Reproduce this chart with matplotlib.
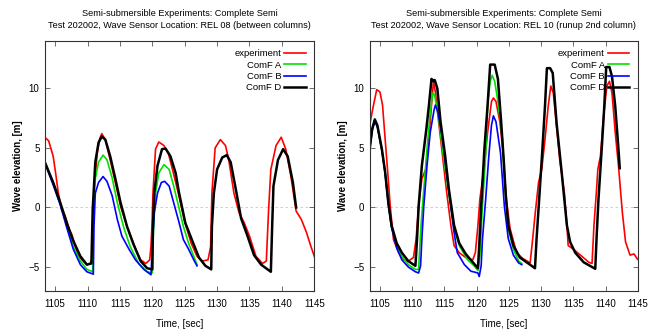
import matplotlib
matplotlib.use("Agg")
import matplotlib.pyplot as plt

plt.rcParams['font.family'] = ['Liberation Sans Narrow', 'Liberation Sans', 'DejaVu Sans']
plt.rcParams['font.size'] = 7

# ---- REL 08 (between columns) ----
t_exp_08 = [1103.45, 1104.0, 1104.7, 1105.1, 1105.5, 1106.0, 1106.55, 1107.2, 1107.6, 1108.1, 1108.6,
            1109.1, 1109.9, 1110.4, 1110.65, 1110.9, 1111.0, 1111.5, 1111.9, 1112.2, 1112.75, 1113.5,
            1114.3, 1115.1, 1116.1, 1116.6, 1117.1, 1117.6, 1118.2, 1119.0, 1119.6, 1119.8, 1119.95,
            1120.1, 1120.5, 1121.0, 1121.8, 1122.5, 1123.3, 1124.1, 1125.0, 1126.0, 1126.9, 1127.7,
            1128.6, 1129.0, 1129.2, 1129.7, 1130.5, 1131.3, 1131.8, 1132.6, 1133.4, 1134.2, 1135.0,
            1136.0, 1137.0, 1137.6, 1137.95, 1138.3, 1139.1, 1139.9, 1140.6, 1141.4, 1142.2, 1143.0,
            1143.8, 1144.5, 1145.2]
y_exp_08 = [5.87, 5.6, 4.3, 2.8, 1.2, -0.17, -0.73, -1.85, -2.3, -3.26, -4.0,
            -4.38, -4.8, -4.7, -4.4, -0.2, 1.5, 4.6, 5.8, 6.2, 5.7, 4.0,
            2.1, 0.1, -1.6, -2.3, -3.0, -3.7, -4.4, -4.7, -4.4, -3.2, -1.5,
            1.2, 4.9, 5.5, 5.2, 4.5, 2.8, 1.0, -1.2, -3.0, -4.1, -4.5,
            -4.4, -3.3, 1.2, 5.0, 5.7, 5.2, 4.0, 1.2, -0.45, -1.3, -2.4,
            -4.1, -4.7, -4.5, -0.2, 3.2, 5.2, 5.9, 4.9, 2.6, -0.3, -1.0,
            -2.1, -3.3, -4.4]

t_a_08 = [1103.45, 1104.7, 1105.8, 1106.8, 1107.8, 1108.9, 1109.9, 1110.8, 1110.9, 1111.2, 1111.7,
          1112.4, 1113.0, 1113.8, 1114.6, 1115.6, 1116.6, 1117.9, 1119.2, 1120.0, 1120.2, 1120.5,
          1121.0, 1121.8, 1122.6, 1123.3, 1124.1, 1124.8, 1125.6, 1126.4, 1126.9]
y_a_08 = [3.7, 2.0, 0.3, -1.5, -3.3, -4.5, -5.2, -5.4, -0.2, 2.4, 3.8,
          4.4, 4.0, 2.5, 0.4, -1.7, -3.3, -4.7, -5.4, -5.5, -1.6, 1.2,
          2.9, 3.6, 3.2, 1.8, 0.0, -1.6, -3.0, -4.1, -4.8]

t_b_08 = [1103.45, 1104.7, 1105.8, 1106.8, 1107.8, 1108.9, 1109.9, 1110.9, 1111.0, 1111.2, 1111.7,
          1112.4, 1113.0, 1113.8, 1114.6, 1115.3, 1116.4, 1117.4, 1118.7, 1119.8, 1120.0, 1120.3,
          1120.8, 1121.4, 1121.9, 1122.6, 1123.3, 1124.1, 1124.8, 1125.6, 1126.4, 1126.9]
y_b_08 = [3.7, 1.9, 0.2, -1.7, -3.5, -4.8, -5.4, -5.6, -1.6, 1.2, 2.1,
          2.6, 2.2, 1.0, -1.0, -2.4, -3.5, -4.4, -5.2, -5.65, -3.3, -0.45,
          1.2, 2.1, 2.2, 1.8, 0.4, -1.2, -2.7, -3.5, -4.4, -4.9]

t_d_08 = [1103.45, 1104.7, 1105.8, 1106.8, 1107.8, 1108.9, 1109.9, 1110.6, 1110.8, 1111.2, 1111.7,
          1112.2, 1112.75, 1113.5, 1114.3, 1115.1, 1116.1, 1117.1, 1118.2, 1119.2, 1120.0, 1120.1,
          1120.3, 1120.8, 1121.5, 1122.05, 1122.8, 1123.6, 1124.1, 1125.1, 1126.1, 1127.2, 1128.2,
          1129.1, 1129.2, 1129.5, 1130.0, 1130.8, 1131.5, 1132.1, 1132.9, 1133.7, 1134.7, 1135.7,
          1136.8, 1138.3, 1138.5, 1138.7, 1139.4, 1140.2, 1140.9, 1141.7, 1142.2]
y_d_08 = [3.76, 2.1, 0.4, -1.3, -2.8, -4.1, -4.8, -4.7, -0.17, 3.8, 5.45,
          5.96, 5.7, 4.3, 2.4, 0.4, -1.6, -3.1, -4.5, -5.1, -5.2, -1.6,
          1.2, 3.5, 4.9, 4.95, 4.3, 2.9, 1.3, -1.3, -2.7, -4.2, -4.9,
          -5.2, -1.6, 1.2, 3.2, 4.2, 4.4, 3.8, 1.5, -0.9, -2.4, -4.0,
          -4.8, -5.4, -1.6, 1.8, 4.0, 4.9, 4.3, 2.1, 0.0]

# ---- REL 10 (runup 2nd column) ----
t_exp_10 = [1103.4, 1104.0, 1104.5, 1105.0, 1105.4, 1105.8, 1106.2, 1106.6, 1107.1, 1107.9, 1108.7,
            1109.4, 1110.2, 1110.6, 1111.0, 1111.5, 1112.1, 1112.6, 1113.0, 1113.3, 1113.6, 1114.1,
            1114.7, 1115.3, 1116.0, 1116.5, 1117.3, 1118.3, 1119.4, 1119.8, 1120.2, 1120.5, 1121.2,
            1121.7, 1122.3, 1122.6, 1123.0, 1123.6, 1124.1, 1124.6, 1125.2, 1126.2, 1127.2, 1128.3,
            1128.7, 1129.1, 1129.6, 1130.1, 1130.6, 1131.1, 1131.5, 1131.9, 1132.4, 1132.9, 1133.6,
            1134.0, 1134.2, 1135.0, 1136.1, 1137.4, 1137.9, 1138.2, 1138.6, 1138.8, 1139.2, 1139.7,
            1140.2, 1140.6, 1141.0, 1141.5, 1142.0, 1142.6, 1143.1, 1143.8, 1144.4, 1144.9, 1145.2]
y_exp_10 = [6.9, 8.6, 9.9, 9.7, 8.6, 5.8, 3.0, 0.1, -2.7, -3.8, -4.4,
            -4.5, -4.2, -2.7, 0.1, 2.4, 3.2, 5.8, 8.6, 10.6, 9.7, 7.2,
            4.4, 1.5, -1.5, -3.2, -3.8, -4.2, -4.4, -3.8, -1.5, 0.7, 3.5,
            6.3, 8.9, 9.2, 8.9, 7.2, 4.6, 0.7, -1.8, -3.8, -4.3, -4.65,
            -2.6, -0.4, 2.1, 3.2, 5.7, 8.5, 10.2, 9.6, 6.8, 4.0, 1.25,
            -1.5, -3.2, -3.5, -4.0, -4.6, -4.7, -1.5, 1.5, 3.2, 4.3, 7.7,
            10.2, 10.6, 9.6, 6.3, 3.5, -0.4, -2.9, -4.0, -3.9, -4.3, -4.45]

t_a_10 = [1103.4, 1103.8, 1104.2, 1104.6, 1105.3, 1105.8, 1106.3, 1106.8, 1107.6, 1108.4, 1109.4,
          1110.5, 1111.0, 1111.1, 1111.4, 1111.8, 1112.3, 1112.8, 1113.2, 1113.5, 1114.1, 1114.9,
          1115.7, 1116.5, 1117.3, 1118.6, 1119.6, 1120.2, 1120.5, 1120.9, 1121.4, 1121.7, 1122.1,
          1122.4, 1122.8, 1123.3, 1124.0, 1124.3, 1124.9, 1125.7, 1126.5, 1127.0]
y_a_10 = [4.9, 6.6, 7.3, 6.8, 4.8, 2.9, 0.3, -1.6, -3.2, -4.1, -4.8,
          -5.2, -5.2, -4.1, -1.3, 1.5, 4.9, 8.0, 9.6, 9.4, 7.5, 4.1,
          1.0, -1.8, -3.2, -4.4, -4.9, -5.3, -4.1, 0.1, 4.4, 8.6, 10.6,
          11.1, 10.6, 8.9, 5.8, 2.4, -1.8, -3.5, -4.5, -4.7]

t_b_10 = [1103.4, 1103.8, 1104.2, 1104.6, 1105.3, 1105.8, 1106.3, 1106.8, 1107.6, 1108.4, 1109.4,
          1110.5, 1111.0, 1111.3, 1111.5, 1111.8, 1112.3, 1112.8, 1113.4, 1113.6, 1114.0, 1114.7,
          1115.3, 1116.0, 1116.5, 1117.0, 1118.1, 1119.1, 1120.2, 1120.4, 1120.7, 1120.9, 1121.4,
          1121.9, 1122.3, 1122.6, 1123.0, 1123.7, 1124.3, 1124.9, 1125.7, 1126.5, 1127.0]
y_b_10 = [4.9, 6.5, 7.2, 6.8, 4.8, 2.9, 0.3, -1.7, -3.4, -4.4, -5.0,
          -5.4, -5.5, -4.9, -2.7, 0.1, 3.5, 6.3, 8.2, 8.6, 8.0, 5.8,
          3.0, 0.1, -2.1, -3.8, -4.8, -5.35, -5.5, -5.8, -4.9, -2.7, 0.7,
          4.4, 6.9, 7.7, 7.2, 4.6, 0.1, -2.6, -4.0, -4.65, -4.8]

t_d_10 = [1103.4, 1103.8, 1104.2, 1104.6, 1105.3, 1105.8, 1106.3, 1106.8, 1107.6, 1108.4, 1109.4,
          1110.5, 1110.75, 1111.0, 1111.5, 1112.2, 1112.6, 1113.0, 1113.3, 1113.5, 1113.9, 1114.4,
          1115.1, 1115.7, 1116.5, 1117.3, 1118.3, 1119.4, 1120.2, 1120.4, 1120.7, 1121.2, 1121.7,
          1122.1, 1122.8, 1123.3, 1123.8, 1124.2, 1124.5, 1124.9, 1125.7, 1126.7, 1127.75, 1129.05,
          1129.3, 1129.7, 1130.2, 1130.6, 1130.9, 1131.4, 1131.8, 1132.4, 1133.2, 1134.0, 1134.5,
          1135.3, 1136.6, 1138.4, 1138.6, 1138.9, 1139.4, 1139.8, 1140.1, 1140.6, 1141.0, 1141.5,
          1142.0, 1142.2]
y_d_10 = [4.9, 6.6, 7.4, 6.9, 4.9, 3.0, 0.4, -1.5, -3.0, -3.8, -4.5,
          -4.9, -2.7, 0.1, 3.5, 6.6, 8.6, 10.8, 10.6, 10.7, 10.0, 7.2,
          4.4, 1.5, -1.5, -3.0, -3.9, -4.6, -5.1, -3.2, 0.1, 4.9, 8.6,
          12.0, 12.0, 10.8, 7.2, 4.0, 1.2, -1.5, -3.2, -4.2, -4.6, -5.1,
          -2.6, 0.7, 4.9, 8.5, 11.7, 11.7, 11.3, 7.1, 2.9, -1.5, -2.9,
          -3.8, -4.6, -5.15, -2.6, 0.7, 4.9, 8.5, 11.8, 11.8, 11.0, 8.5,
          4.9, 3.3]

titles = ["Semi-submersible Experiments: Complete Semi\nTest 202002, Wave Sensor Location: REL 08 (between columns)",
          "Semi-submersible Experiments: Complete Semi\nTest 202002, Wave Sensor Location: REL 10 (runup 2nd column)"]
labels = ["experiment", "ComF A", "ComF B", "ComF D"]
colors = ["#ff0000", "#00e000", "#0000ff", "#000000"]
widths = [1.2, 1.2, 1.2, 1.8]
xticks = [1105, 1110, 1115, 1120, 1125, 1130, 1135, 1140, 1145]
yticks = [-5, 0, 5, 10]

panels = [
    [(t_exp_08, y_exp_08), (t_a_08, y_a_08), (t_b_08, y_b_08), (t_d_08, y_d_08)],
    [(t_exp_10, y_exp_10), (t_a_10, y_a_10), (t_b_10, y_b_10), (t_d_10, y_d_10)],
]

fig = plt.figure(figsize=(6.63, 3.29), dpi=100)
axes = [fig.add_axes([0.068, 0.116, 0.406, 0.760]),
        fig.add_axes([0.558, 0.116, 0.404, 0.760])]

for ax, series, title in zip(axes, panels, titles):
    ax.axhline(0, color="#c8c8c8", lw=0.6, ls=(0, (3, 3)), zorder=0)
    for (t, y), lab, c, w in zip(series, labels, colors, widths):
        ax.plot(t, y, color=c, lw=w, label=lab, solid_joinstyle="round")
    ax.set_xlim(1103.45, 1145)
    ax.set_ylim(-7, 14)
    ax.set_xticks(xticks)
    ax.set_yticks(yticks)
    ax.tick_params(direction="in", top=True, right=True, length=3.5, width=0.6,
                   labelsize=7, color="#555555")
    ax.tick_params(axis="x", pad=6)
    ax.tick_params(axis="y", pad=4)
    for s in ax.spines.values():
        s.set_linewidth(0.8)
        s.set_color("#333333")
    ax.set_title(title, fontsize=6.6, pad=9, linespacing=1.45)
    ax.set_xlabel("Time, [sec]", fontsize=7, labelpad=7)
    ax.set_ylabel("Wave elevation, [m]", fontsize=7, fontweight="bold", labelpad=4)
    ax.legend(loc="upper right", frameon=False, markerfirst=False, fontsize=6.8,
              handlelength=2.3, handletextpad=0.3, labelspacing=0.25,
              borderpad=0.2, borderaxespad=0.7)

fig.savefig("out.png", dpi=100)
